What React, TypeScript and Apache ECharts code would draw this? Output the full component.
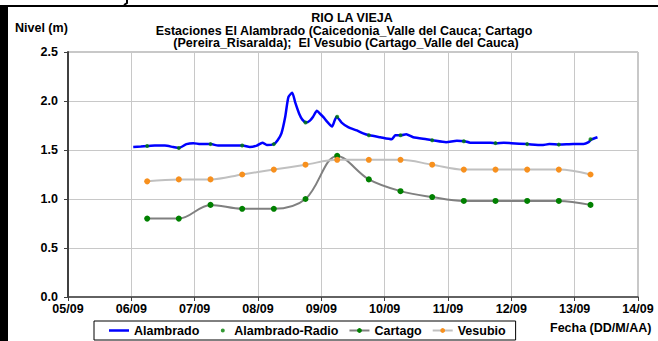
import React, { useEffect, useRef } from "react";
import * as echarts from "echarts";

// Days counted from 05/09 00:00
const alambradoDays = [1.03, 1.15, 1.25, 1.37, 1.53, 1.66, 1.75, 1.87, 1.98, 2.09, 2.26, 2.37, 2.64, 2.76, 2.87, 2.98, 3.07, 3.14, 3.25, 3.31, 3.37, 3.43, 3.48, 3.54, 3.59, 3.65, 3.70, 3.76, 3.82, 3.87, 3.93, 3.98, 4.04, 4.09, 4.17, 4.21, 4.24, 4.32, 4.43, 4.56, 4.66, 4.76, 4.93, 5.11, 5.17, 5.26, 5.34, 5.45, 5.66, 5.76, 5.97, 6.14, 6.26, 6.35, 6.55, 6.67, 6.76, 6.88, 7.00, 7.25, 7.48, 7.60, 7.76, 7.98, 8.14, 8.22, 8.26, 8.36];
const alambradoLevels = [1.53, 1.535, 1.54, 1.545, 1.545, 1.53, 1.52, 1.56, 1.57, 1.56, 1.56, 1.545, 1.545, 1.545, 1.53, 1.545, 1.575, 1.55, 1.56, 1.6, 1.67, 1.84, 2.04, 2.085, 1.98, 1.87, 1.81, 1.78, 1.8, 1.84, 1.9, 1.87, 1.83, 1.79, 1.74, 1.8, 1.84, 1.78, 1.73, 1.7, 1.67, 1.65, 1.63, 1.61, 1.65, 1.65, 1.66, 1.63, 1.61, 1.6, 1.58, 1.595, 1.59, 1.575, 1.575, 1.575, 1.57, 1.575, 1.57, 1.56, 1.55, 1.56, 1.555, 1.56, 1.56, 1.58, 1.605, 1.63];

// Manual readings at 06:00 and 18:00
const readingDays = [1.25, 1.75, 2.25, 2.75, 3.25, 3.75, 4.25, 4.75, 5.25, 5.75, 6.25, 6.75, 7.25, 7.75, 8.25];
const radioLevels = [1.54, 1.52, 1.56, 1.545, 1.56, 1.78, 1.84, 1.65, 1.65, 1.6, 1.59, 1.57, 1.56, 1.555, 1.61];
const cartagoLevels = [0.8, 0.8, 0.94, 0.9, 0.9, 1.0, 1.44, 1.2, 1.08, 1.02, 0.98, 0.98, 0.98, 0.98, 0.94];
const vesubioLevels = [1.18, 1.2, 1.2, 1.25, 1.3, 1.35, 1.4, 1.4, 1.4, 1.35, 1.3, 1.3, 1.3, 1.3, 1.25];

const titleLines = [
  "RIO LA VIEJA",
  "Estaciones El Alambrado (Caicedonia_Valle del Cauca; Cartago",
  "(Pereira_Risaralda);  El Vesubio (Cartago_Valle del Cauca)",
];
const yAxisTitle = "Nivel (m)";
const xAxisTitle = "Fecha (DD/M/AA)";
const seriesNames = ["Alambrado", "Alambrado-Radio", "Cartago", "Vesubio"];

const FONT = "'Liberation Sans', Arial, sans-serif";
const FS = 12.5;

const pair = (xs: number[], ys: number[]) => xs.map((x, i) => [x, ys[i]]);

// legend icons (20x6 boxes)
const lineIcon = "path://M0,0 L0.01,0 M0,1.75 L20,1.75 L20,4.25 L0,4.25 Z M0,6 L0.01,6";
const dotIcon = "path://M0,0 L0.01,0 M15.5,3 A2,2 0 1 1 11.5,3 A2,2 0 1 1 15.5,3 Z M20,6 L19.99,6";

export default function App() {
  const ref = useRef<HTMLDivElement>(null);
  useEffect(() => {
    if (!ref.current) return;
    const chart = echarts.init(ref.current, null, { renderer: "svg" });
    const bold = { fontFamily: FONT, fontWeight: "bold" as const, color: "#000" };
    const font = `bold ${FS}px ${FONT}`;
    chart.setOption({
      animation: false,
      backgroundColor: "#fff",
      grid: {
        left: 68,
        right: 20,
        top: 52,
        bottom: 44,
        show: true,
        borderColor: "#909090",
        borderWidth: 1,
      },
      xAxis: {
        type: "value",
        min: 0,
        max: 9,
        interval: 1,
        axisLine: { show: true, onZero: false, lineStyle: { color: "#404040", width: 1.5 } },
        axisTick: { show: true, length: 4, lineStyle: { color: "#404040" } },
        splitLine: { show: true, lineStyle: { color: "#c8c8c8", width: 1 } },
        axisLabel: {
          ...bold,
          fontSize: FS,
          margin: 5,
          formatter: (v: number) => {
            const d = 5 + Math.round(v);
            return (d < 10 ? "0" + d : "" + d) + "/09";
          },
        },
      },
      yAxis: {
        type: "value",
        min: 0,
        max: 2.5,
        interval: 0.5,
        axisLine: { show: true, lineStyle: { color: "#404040", width: 2 } },
        axisTick: { show: true, length: 4, lineStyle: { color: "#404040" } },
        splitLine: { show: true, lineStyle: { color: "#c8c8c8", width: 1 } },
        axisLabel: {
          ...bold,
          fontSize: FS,
          margin: 10,
          formatter: (v: number) => v.toFixed(1),
        },
      },
      legend: {
        left: 94,
        top: 321,
        orient: "horizontal",
        padding: [3, 10, 3, 15],
        itemGap: 10,
        itemWidth: 20,
        itemHeight: 6,
        borderColor: "#000",
        borderWidth: 1,
        textStyle: { ...bold, fontSize: FS },
        data: [
          { name: seriesNames[0], icon: lineIcon },
          { name: seriesNames[1], icon: dotIcon },
          { name: seriesNames[2] },
          { name: seriesNames[3] },
        ],
      },
      graphic: [
        { type: "rect", shape: { x: 0, y: 5, width: 8, height: 340 }, style: { fill: "#000" } },
        { type: "rect", shape: { x: 0, y: 5, width: 658, height: 2 }, style: { fill: "#000" } },
        { type: "polyline", shape: { points: [[127, 0], [127, 3], [124, 5]] }, style: { stroke: "#000", lineWidth: 2, fill: null } },
        { type: "text", x: 352, y: 17.5, style: { text: titleLines[0], fill: "#000", align: "center", verticalAlign: "middle", font } },
        { type: "text", x: 344, y: 30.5, style: { text: titleLines[1], fill: "#000", align: "center", verticalAlign: "middle", font } },
        { type: "text", x: 346, y: 43, style: { text: titleLines[2], fill: "#000", align: "center", verticalAlign: "middle", font } },
        { type: "text", x: 15, y: 27.5, style: { text: yAxisTitle, fill: "#000", align: "left", verticalAlign: "middle", font } },
        { type: "text", x: 550, y: 328, style: { text: xAxisTitle, fill: "#000", align: "left", verticalAlign: "middle", font } },
      ],
      series: [
        {
          name: seriesNames[0],
          type: "line",
          data: pair(alambradoDays, alambradoLevels),
          showSymbol: false,
          symbol: "none",
          smooth: 0.2,
          lineStyle: { color: "#0000ff", width: 2.5 },
          itemStyle: { color: "#0000ff" },
          z: 3,
        },
        {
          name: seriesNames[1],
          type: "scatter",
          data: pair(readingDays, radioLevels),
          symbol: "circle",
          symbolSize: 4,
          itemStyle: { color: "#008000" },
          z: 4,
        },
        {
          name: seriesNames[2],
          type: "line",
          data: pair(readingDays, cartagoLevels),
          smooth: 0.35,
          symbol: "circle",
          symbolSize: 6,
          lineStyle: { color: "#808080", width: 2 },
          itemStyle: { color: "#008000", borderWidth: 0 },
          z: 2,
        },
        {
          name: seriesNames[3],
          type: "line",
          data: pair(readingDays, vesubioLevels),
          smooth: 0.35,
          symbol: "circle",
          symbolSize: 6,
          lineStyle: { color: "#c0c0c0", width: 2 },
          itemStyle: { color: "#f7901e", borderWidth: 0 },
          z: 2,
        },
      ],
    });
    return () => chart.dispose();
  }, []);
  return (
    <div
      ref={ref}
      style={{ position: "absolute", left: 0, top: 0, width: 658, height: 341 }}
    />
  );
}
